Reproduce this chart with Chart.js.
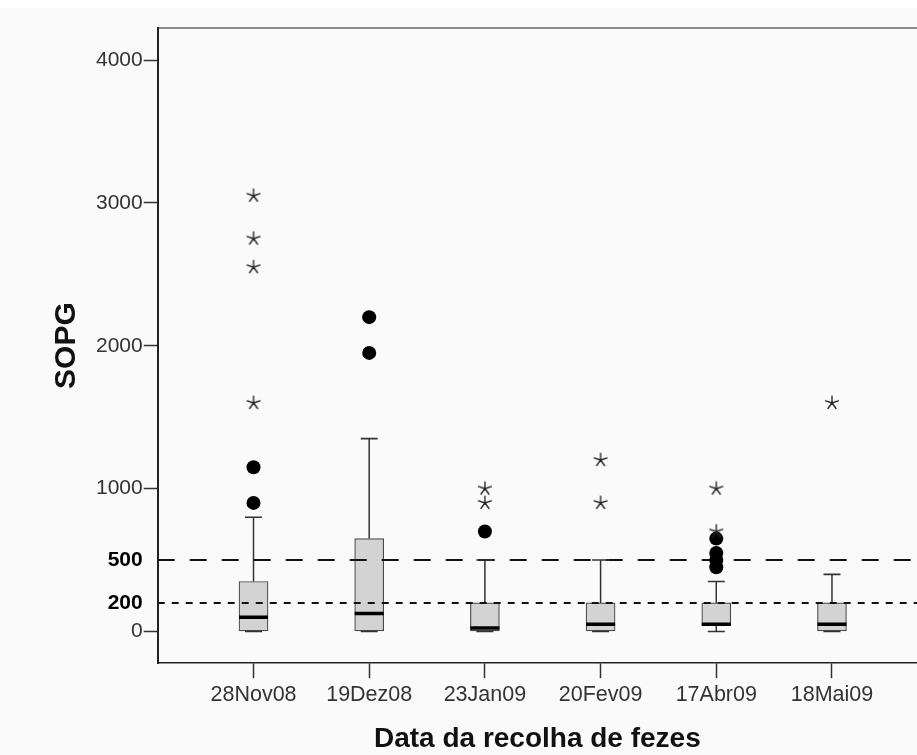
<!DOCTYPE html>
<html><head><meta charset="utf-8">
<script src="https://cdn.jsdelivr.net/npm/chart.js@4.4.0/dist/chart.umd.min.js"></script>
<style>html,body{margin:0;padding:0;background:#fafafa;overflow:hidden;}canvas{display:block;}</style>
</head><body>
<canvas id="c" width="917" height="755"></canvas>
<script>
// ---- data ----
const categories = ['28Nov08', '19Dez08', '23Jan09', '20Fev09', '17Abr09', '18Mai09'];
const q1          = [0,   0,    0,   0,   40,  0];
const medians     = [100, 125,  25,  50,  50,  50];
const q3          = [350, 650,  200, 200, 200, 200];
const whiskerLow  = [0,   0,    0,   0,   0,   0];
const whiskerHigh = [800, 1350, 500, 500, 350, 400];
const outliers = [[1150, 900], [2200, 1950], [700], [], [650, 550, 500, 450], []];
const extremes = [[3050, 2750, 2550, 1600], [], [1000, 900], [1200, 900], [1000, 700], [1600]];
const referenceLines = [500, 200];
const yTickValues = [0, 200, 500, 1000, 2000, 3000, 4000];
const xRange = [-0.828, 5.735];
const yRange = [-222, 4224];

// ---- derived datasets ----
const boxData = categories.map((c, i) => ({x: i, y: [q1[i], q3[i]]}));
const whiskerData = [];
categories.forEach((c, i) => {
  whiskerData.push({x: i, y: q3[i]}, {x: i, y: whiskerHigh[i]}, {x: i, y: null});
  whiskerData.push({x: i, y: q1[i]}, {x: i, y: whiskerLow[i]}, {x: i, y: null});
});
const capData = [];
categories.forEach((c, i) => { capData.push({x: i, y: whiskerHigh[i]}, {x: i, y: whiskerLow[i]}); });
const medianData = categories.map((c, i) => ({x: i, y: medians[i]}));
const outlierData = [];
outliers.forEach((arr, i) => arr.forEach(v => outlierData.push({x: i, y: v})));
const extremeData = [];
extremes.forEach((arr, i) => arr.forEach(v => extremeData.push({x: i, y: v})));

function makeAsterisk() {
  const s = 18, c = document.createElement('canvas');
  c.width = s; c.height = s;
  const g = c.getContext('2d');
  g.strokeStyle = '#222'; g.lineWidth = 1.35; g.lineCap = 'round';
  g.beginPath();
  for (let k = 0; k < 5; k++) {
    const a = -Math.PI / 2 + k * 2 * Math.PI / 5;
    g.moveTo(s / 2, s / 2);
    g.lineTo(s / 2 + 6.8 * Math.cos(a), s / 2 + 6.8 * Math.sin(a));
  }
  g.stroke();
  return c;
}
const asterisk = makeAsterisk();

const bgPlugin = {
  id: 'bg',
  beforeDraw(chart) {
    const {ctx, width, height} = chart;
    ctx.save();
    ctx.fillStyle = '#ffffff'; ctx.fillRect(0, 0, width, 8);
    ctx.fillStyle = '#fafafa'; ctx.fillRect(0, 8, width, height - 8);
    ctx.restore();
  }
};

const refDash = [[17, 15], [7, 7]];
const refDatasets = referenceLines.map((v, k) => ({
  type: 'line',
  data: [{x: xRange[0], y: v}, {x: xRange[1], y: v}],
  borderColor: '#111', borderWidth: 2, borderDash: refDash[k],
  pointRadius: 0, order: 3
}));

new Chart(document.getElementById('c'), {
  type: 'bar',
  data: {
    datasets: [
      {type: 'line', data: whiskerData, borderColor: '#333', borderWidth: 1.5, pointRadius: 0, spanGaps: false, order: 6},
      {type: 'bar', data: boxData, backgroundColor: '#d3d3d3', borderColor: '#4a4a4a', borderWidth: 1.2, borderSkipped: false, barThickness: 29, order: 5},
      ...refDatasets,
      {type: 'scatter', data: capData, pointStyle: 'line', pointRadius: 8.5, pointBorderWidth: 1.6, pointBorderColor: '#333', order: 2},
      {type: 'scatter', data: medianData, pointStyle: 'line', pointRadius: 14.5, pointBorderWidth: 3.5, pointBorderColor: '#000', order: 2},
      {type: 'scatter', data: outlierData, pointStyle: 'circle', pointRadius: 7, pointBackgroundColor: '#000', pointBorderColor: '#000', pointBorderWidth: 0, order: 1},
      {type: 'scatter', data: extremeData, pointStyle: asterisk, pointRadius: 6, order: 0}
    ]
  },
  options: {
    responsive: false, animation: false, devicePixelRatio: 1,
    layout: {autoPadding: false, padding: {left: 49, top: 28, right: 0, bottom: 0}},
    plugins: {legend: {display: false}, tooltip: {enabled: false}},
    scales: {
      x: {
        type: 'linear', min: xRange[0], max: xRange[1], offset: false,
        afterBuildTicks: (axis) => { axis.ticks = categories.map((c, i) => ({value: i})); },
        afterFit: (axis) => { axis.paddingLeft = 0; axis.paddingRight = 0; },
        grid: {display: true, offset: false, drawOnChartArea: false, drawTicks: true, tickLength: 15, tickColor: '#333', tickWidth: 1.5},
        border: {display: true, color: '#222', width: 1.5},
        ticks: {callback: (v) => categories[v] ?? '', font: {family: 'Liberation Sans', size: 21.5}, color: '#333', padding: 4, maxRotation: 0, autoSkip: false},
        title: {display: true, text: 'Data da recolha de fezes', font: {family: 'Liberation Sans', size: 28, weight: 'bold', lineHeight: 1.0}, color: '#111', padding: {top: 13, bottom: 2}}
      },
      x2: {
        type: 'linear', position: 'top', display: true, offset: false,
        afterFit: (axis) => { axis.paddingLeft = 0; axis.paddingRight = 0; },
        grid: {display: false, drawTicks: false},
        ticks: {display: false},
        border: {display: true, color: '#8a8a8a', width: 2}
      },
      y: {
        type: 'linear', min: yRange[0], max: yRange[1],
        afterBuildTicks: (axis) => { axis.ticks = yTickValues.map(v => ({value: v})); },
        grid: {display: true, drawOnChartArea: false, drawTicks: true, tickLength: 14, tickWidth: 1.5,
               tickColor: (ctx) => referenceLines.includes(ctx.tick && ctx.tick.value) ? 'rgba(0,0,0,0)' : '#333'},
        border: {display: true, color: '#222', width: 2},
        ticks: {
          callback: (v) => String(v),
          font: (ctx) => referenceLines.includes(ctx.tick && ctx.tick.value)
            ? {family: 'Liberation Sans', size: 21, weight: 'bold'}
            : {family: 'Liberation Sans', size: 21},
          color: (ctx) => referenceLines.includes(ctx.tick && ctx.tick.value) ? '#000' : '#333',
          padding: 1, autoSkip: false
        },
        title: {display: true, text: 'SOPG', font: {family: 'Liberation Sans', size: 30, weight: 'bold', lineHeight: 1.2}, color: '#111', padding: {top: 0, bottom: 10}}
      }
    }
  },
  plugins: [bgPlugin]
});
</script>
</body></html>
